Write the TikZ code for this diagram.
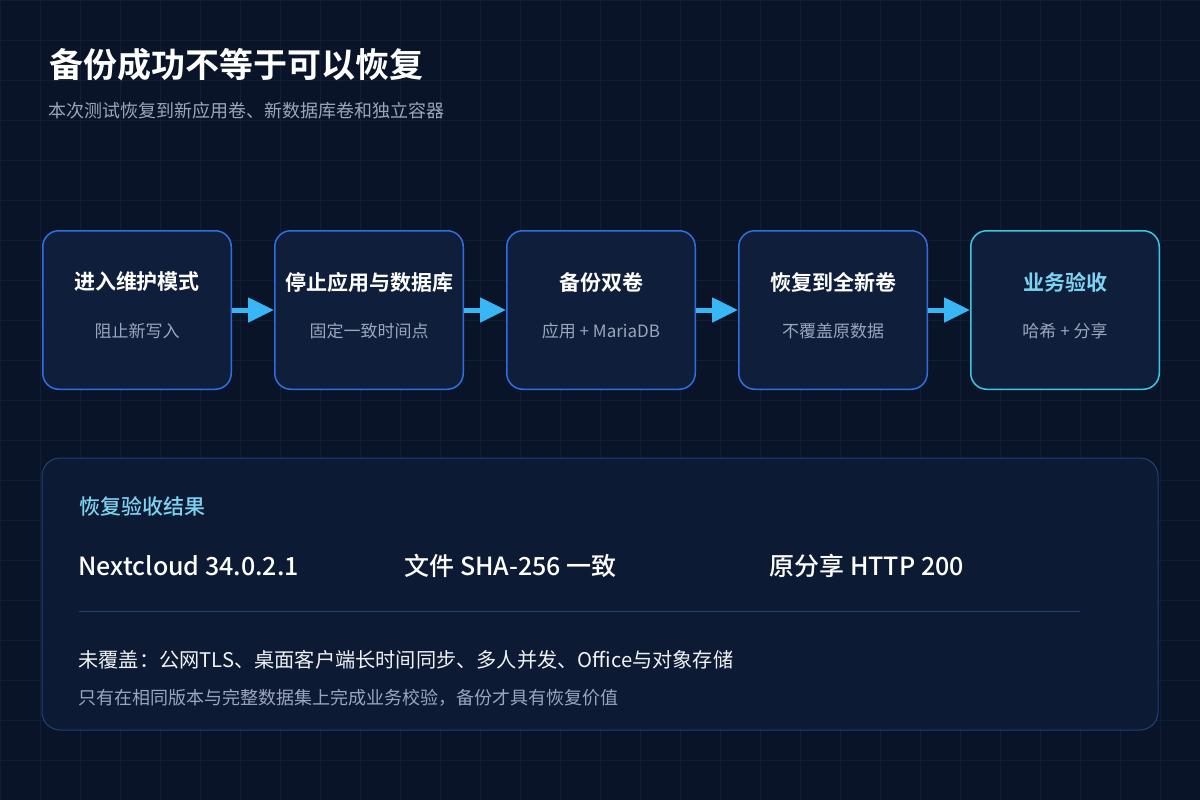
\documentclass[tikz,border=0pt]{standalone}
\usepackage{fontspec}
\setmainfont{Noto Sans CJK SC}[BoldFont={Noto Sans CJK SC Bold}]
\newfontfamily\mediumfont{Noto Sans CJK SC Medium}
\usetikzlibrary{positioning,arrows.meta}
\definecolor{bgdark}{HTML}{0A1428}
\definecolor{gridc}{HTML}{111E36}
\definecolor{boxfill}{HTML}{0F1E3A}
\definecolor{boxline}{HTML}{2F6FE0}
\definecolor{cyanline}{HTML}{3FC6E0}
\definecolor{arrowc}{HTML}{38B6F5}
\definecolor{subtext}{HTML}{9AA6BC}
\definecolor{accent}{HTML}{7CD3F2}
\definecolor{panelfill}{HTML}{0D1A33}
\definecolor{panelline}{HTML}{22407A}
\tikzset{
  stage/.style = {draw = boxline, line width = 1.5pt, fill = boxfill, rounded corners = 16pt,
    minimum width = 188.5pt, minimum height = 158.5pt, shape = rectangle},
  stagetitle/.style = {text = white, font = \bfseries\fontsize{21}{24}\selectfont},
  stagesub/.style = {text = subtext, font = \fontsize{17}{20}\selectfont},
  flow/.style = {-{Triangle[length = 26pt, width = 24pt]}, draw = arrowc, line width = 5pt},
  result/.style = {text = white, anchor = west, font = \mediumfont\fontsize{25}{29}\selectfont}
}
\begin{document}
\begin{tikzpicture}[x = 1pt, y = -1pt]
\fill[bgdark] (0,0) rectangle (1200,800);
\useasboundingbox (0,0) rectangle (1200,800);
\foreach \g in {0,40,...,1200} {\draw[gridc, line width = 0.6pt] (\g,0) -- (\g,800);}
\foreach \g in {0,40,...,800} {\draw[gridc, line width = 0.6pt] (0,\g) -- (1200,\g);}
% header
\node[anchor = west, text = white, font = \bfseries\fontsize{34}{40}\selectfont] (title) at (46,65) {备份成功不等于可以恢复};
\node[anchor = west, text = subtext, font = \fontsize{18}{21}\selectfont] (subtitle) at (45,111) {本次测试恢复到新应用卷、新数据库卷和独立容器};
% stages
\node[stage] (s1) at (137,310) {};
\node[stage, right = 42pt of s1] (s2) {};
\node[stage, right = 42pt of s2] (s3) {};
\node[stage, right = 42pt of s3] (s4) {};
\node[stage, right = 42pt of s4, draw = cyanline] (s5) {};
\foreach \n/\t/\s in {s1/进入维护模式/阻止新写入, s2/停止应用与数据库/固定一致时间点, s3/备份双卷/应用 + MariaDB, s4/恢复到全新卷/不覆盖原数据} {
  \node[stagetitle] at ([yshift = 28pt]\n.center) {\t};
  \node[stagesub] at ([yshift = -21pt]\n.center) {\s};
}
\node[stagetitle, text = accent] at ([yshift = 28pt]s5.center) {业务验收};
\node[stagesub] at ([yshift = -21pt]s5.center) {哈希 + 分享};
\foreach \a/\b in {s1/s2, s2/s3, s3/s4, s4/s5} {\draw[flow] (\a.east) -- (\b.west);}
% result panel
\node[draw = panelline, fill = panelfill, line width = 1pt, rounded corners = 18pt, minimum width = 1116pt, minimum height = 272pt] (panel) at (600,594) {};
\node[anchor = west, text = accent, font = \mediumfont\fontsize{21}{24}\selectfont] (rtitle) at (76,506) {恢复验收结果};
\node[result] (r1) at (75,566) {Nextcloud 34.0.2.1};
\node[result] (r2) at (401,566) {文件 SHA-256 一致};
\node[result] (r3) at (766,566) {原分享 HTTP 200};
\coordinate (la) at (79,611);
\coordinate (lb) at (1080,611);
\draw[panelline, line width = 1pt] (la) -- (lb);
\node[anchor = west, text = white!85!subtext, font = \fontsize{20.2}{24}\selectfont] (gap) at (75,660) {未覆盖：公网TLS、桌面客户端长时间同步、多人并发、Office与对象存储};
\node[anchor = west, text = subtext, font = \fontsize{18}{21}\selectfont] (note) at (75,698) {只有在相同版本与完整数据集上完成业务校验，备份才具有恢复价值};
\end{tikzpicture}
\end{document}
